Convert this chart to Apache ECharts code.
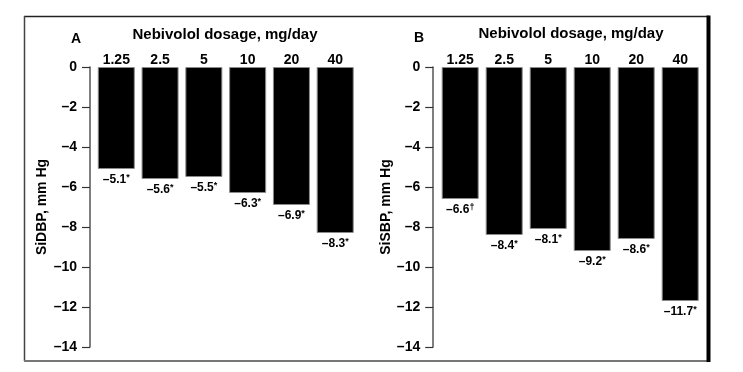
<!DOCTYPE html>
<html>
<head>
<meta charset="utf-8">
<script src="https://cdn.jsdelivr.net/npm/echarts@6/dist/echarts.min.js"></script>
<style>
html,body{margin:0;padding:0;background:#fff;}
#c{width:743px;height:372px;}
</style>
</head>
<body>
<div id="c"></div>
<script>
var categories = ['1.25', '2.5', '5', '10', '20', '40'];
var sidbpValues = [-5.1, -5.6, -5.5, -6.3, -6.9, -8.3];
var sidbpMarks = ['*', '*', '*', '*', '*', '*'];
var sisbpValues = [-6.6, -8.4, -8.1, -9.2, -8.6, -11.7];
var sisbpMarks = ['\u2020', '*', '*', '*', '*', '*'];
var yTicks = [0, -2, -4, -6, -8, -10, -12, -14];
var panelTitle = 'Nebivolol dosage, mg/day';
var yNameA = 'SiDBP, mm Hg';
var yNameB = 'SiSBP, mm Hg';

var FONT = '"Liberation Sans", Arial, Helvetica, sans-serif';
function fmtNum(v) {
  if (v === 0) return '0';
  return (v < 0 ? '\u2013' : '') + String(Math.abs(v));
}
function makeData(vals, marks) {
  return vals.map(function (v, i) {
    return {
      value: v,
      label: { formatter: '{v|' + fmtNum(v) + '}{s|' + marks[i] + '}' }
    };
  });
}

var chart = echarts.init(document.getElementById('c'), null, { renderer: 'canvas' });

function yAxis(gridIndex, name, offset, nameGap) {
  return {
    type: 'value', gridIndex: gridIndex, min: yTicks[yTicks.length - 1], max: yTicks[0], interval: 2,
    offset: offset,
    name: name, nameLocation: 'middle', nameGap: nameGap, nameRotate: 90,
    nameTextStyle: { fontFamily: FONT, fontWeight: 'bold', fontSize: 14, color: '#000' },
    axisLine: { show: true, lineStyle: { color: '#555', width: 1.5 } },
    axisTick: { show: true, inside: false, length: 8, lineStyle: { color: '#333', width: 1.2 } },
    axisLabel: { fontFamily: FONT, fontWeight: 'bold', fontSize: 14, color: '#000', margin: 13,
      formatter: function (v) { return fmtNum(v); } },
    splitLine: { show: false }
  };
}
function xAxis(gridIndex) {
  return {
    type: 'category', gridIndex: gridIndex, data: categories, position: 'top',
    axisLine: { show: false }, axisTick: { show: false },
    axisLabel: { fontFamily: FONT, fontWeight: 'bold', fontSize: 14, color: '#000', margin: 0 }
  };
}
function barSeries(idx, vals, marks) {
  return {
    type: 'bar', xAxisIndex: idx, yAxisIndex: idx, barWidth: 37,
    data: makeData(vals, marks),
    itemStyle: { color: '#000', borderColor: '#8a8a8a', borderWidth: 1 },
    label: {
      show: true, position: 'bottom', distance: 4,
      rich: {
        v: { fontFamily: FONT, fontWeight: 'bold', fontSize: 12, color: '#000', lineHeight: 14 },
        s: { fontFamily: FONT, fontWeight: 'bold', fontSize: 9, color: '#000', verticalAlign: 'top', lineHeight: 14, padding: [0, 0, 4, 0] }
      }
    },
    silent: true, animation: false
  };
}

var option = {
  backgroundColor: '#fff',
  animation: false,
  grid: [
    { left: 94.4, top: 67, width: 262.7, height: 280 },
    { left: 438.2, top: 67, width: 264, height: 280 }
  ],
  xAxis: [xAxis(0), xAxis(1)],
  yAxis: [yAxis(0, yNameA, 4.4, 41), yAxis(1, yNameB, 5, 38)],
  series: [barSeries(0, sidbpValues, sidbpMarks), barSeries(1, sisbpValues, sisbpMarks)],
  graphic: [
    { type: 'line', shape: { x1: 24, y1: 16.5, x2: 709, y2: 16.5 }, style: { stroke: '#222', lineWidth: 1.5 } },
    { type: 'line', shape: { x1: 24.5, y1: 16, x2: 24.5, y2: 361 }, style: { stroke: '#444', lineWidth: 1.5 } },
    { type: 'line', shape: { x1: 24, y1: 361, x2: 709, y2: 361 }, style: { stroke: '#777', lineWidth: 2 } },
    { type: 'line', shape: { x1: 708.5, y1: 15.5, x2: 708.5, y2: 362 }, style: { stroke: '#000', lineWidth: 4 } },
    { type: 'text', left: 71, top: 32, style: { text: 'A', font: 'bold 14px ' + FONT, fill: '#000' } },
    { type: 'text', left: 414, top: 31, style: { text: 'B', font: 'bold 14px ' + FONT, fill: '#000' } },
    { type: 'text', x: 225, y: 35, style: { text: panelTitle, font: 'bold 15px ' + FONT, fill: '#000', textAlign: 'center', textVerticalAlign: 'middle' } },
    { type: 'text', x: 571, y: 34, style: { text: panelTitle, font: 'bold 15px ' + FONT, fill: '#000', textAlign: 'center', textVerticalAlign: 'middle' } }
  ]
};
chart.setOption(option);
</script>
</body>
</html>
